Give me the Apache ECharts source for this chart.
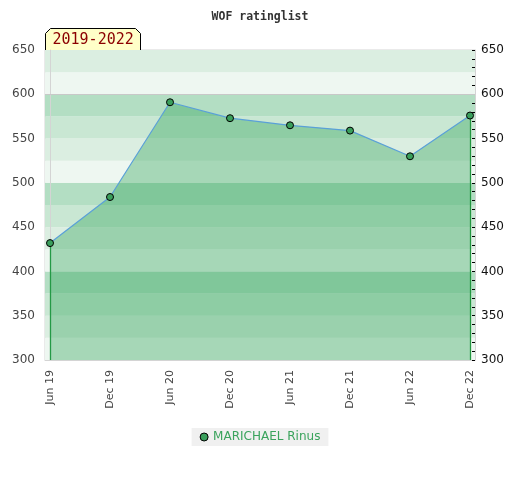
<!DOCTYPE html>
<html>
<head>
<meta charset="utf-8">
<script src="https://cdn.jsdelivr.net/npm/echarts@6/dist/echarts.min.js"></script>
<style>html,body{margin:0;padding:0;background:#fff}#c{width:520px;height:480px}</style>
</head>
<body>
<div id="c"></div>
<script>
const categories = ['Jun 19','Dec 19','Jun 20','Dec 20','Jun 21','Dec 21','Jun 22','Dec 22'];
const ratings = [432, 484, 591, 573, 565, 559, 530, 576];
const playerName = 'MARICHAEL Rinus';
const periodLabel = '2019-2022';
const titleText = 'WOF ratinglist';
const yMin = 300, yMax = 650;
const refLine = 600;

const chart = echarts.init(document.getElementById('c'), null, {renderer: 'canvas'});
const pts = ratings.map((v, i) => [i, v]);
const n = categories.length;
const pad = 1 / 12;
const edge = {color: '#22963f', width: 1.3, type: 'solid'};

chart.setOption({
  animation: false,
  title: {
    text: titleText, left: 'center', top: 6,
    textStyle: {fontFamily: 'DejaVu Sans Mono', fontWeight: 'bold', fontSize: 11.5, color: '#333'}
  },
  grid: {left: 45, right: 45, top: 50, bottom: 120, show: true, borderColor: '#d4d4d4', borderWidth: 1},
  legend: {
    top: 428, left: 'center',
    backgroundColor: '#f0f0f0', padding: [3, 8, 3, 8],
    icon: 'circle', itemWidth: 8, itemHeight: 8, itemGap: 6,
    textStyle: {color: '#3aa35c', fontSize: 12, fontFamily: 'DejaVu Sans'},
    data: [{name: playerName, itemStyle: {color: '#3a9f5c', borderColor: '#000', borderWidth: 1}}]
  },
  xAxis: {
    type: 'value', min: -pad, max: n - 1 + pad,
    axisLine: {show: true, lineStyle: {color: '#d4d4d4'}},
    axisTick: {show: false},
    splitLine: {show: false},
    axisLabel: {
      customValues: categories.map((_, i) => i),
      formatter: v => categories[Math.round(v)] || '',
      rotate: 90, margin: 10, color: '#444', fontSize: 11, fontFamily: 'DejaVu Sans'
    }
  },
  yAxis: [{
    type: 'value', min: yMin, max: yMax, interval: 25, position: 'left',
    axisLine: {show: true, lineStyle: {color: '#d4d4d4'}},
    axisTick: {show: false},
    splitLine: {show: false},
    splitArea: {show: true, areaStyle: {color: ['#eef7f1', '#dbeee1', '#c9e7d3', '#b3dec3']}},
    axisLabel: {formatter: v => (v % 50 === 0 ? String(v) : ''), color: '#444', fontSize: 12, margin: 10, fontFamily: 'DejaVu Sans'}
  }, {
    type: 'value', min: yMin, max: yMax, interval: 50, position: 'right',
    axisLine: {show: true, lineStyle: {color: '#d4d4d4'}},
    axisTick: {show: true, inside: true, length: 3, lineStyle: {color: '#000'}},
    minorTick: {show: true, splitNumber: 5, length: 3, lineStyle: {color: '#000'}},
    splitLine: {show: false},
    axisLabel: {color: '#111', fontSize: 12, margin: 6, fontFamily: 'DejaVu Sans'}
  }],
  series: [{
    name: playerName, type: 'line', data: pts,
    symbol: 'circle', symbolSize: 7,
    itemStyle: {color: '#3a9f5c', borderColor: '#000', borderWidth: 1},
    lineStyle: {color: '#5aa0d8', width: 1.2},
    areaStyle: {color: 'rgba(40,158,82,0.52)', origin: 'start'},
    z: 5,
    markLine: {
      silent: true, symbol: 'none', label: {show: false},
      lineStyle: {color: '#c8c8c8', width: 1, type: 'solid'},
      data: [
        {yAxis: refLine},
        [{coord: [0, yMin], lineStyle: edge}, {coord: [0, ratings[0]]}],
        [{coord: [n - 1, yMin], lineStyle: edge}, {coord: [n - 1, ratings[n - 1]]}]
      ]
    }
  }],
  graphic: [{
    type: 'group', left: 45, top: 28,
    children: [{
      type: 'polyline',
      shape: {points: [[0, 22], [0, 5], [5, 0], [90, 0], [95, 5], [95, 22]]},
      style: {fill: '#ffffc8', stroke: '#000', lineWidth: 1}
    }, {
      type: 'text', x: 7, y: 4,
      style: {text: periodLabel, fill: '#8b0000', font: '15px "DejaVu Sans Mono"'}
    }]
  }]
});
</script>
</body>
</html>
